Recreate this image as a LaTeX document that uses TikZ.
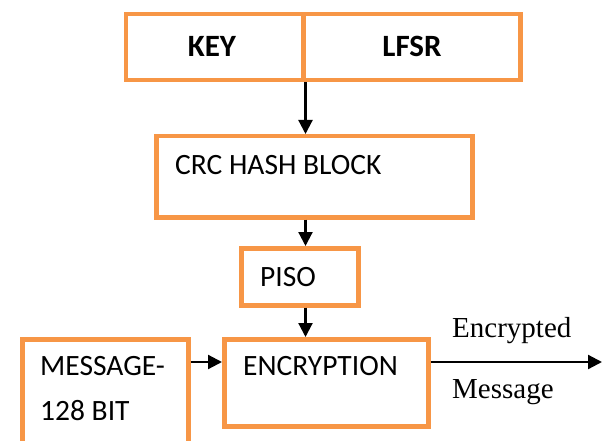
\documentclass[tikz,border=0pt]{standalone}
\usepackage{fontspec}
\setmainfont{Carlito}
\newfontfamily\timesfont{Liberation Serif}
\usetikzlibrary{arrows.meta}
\definecolor{boxorange}{HTML}{F79646}
\begin{document}
\begin{tikzpicture}[x=1pt,y=-1pt,
  blk/.style={draw=boxorange,line width=4.5pt,rectangle,inner sep=0pt,anchor=north west},
  lbl/.style={inner sep=0pt,font=\fontsize{29.5}{34}\selectfont},
  arr/.style={line width=2.2pt,-{Triangle[length=14pt,width=14pt]}}]
\clip (0,0) rectangle (602,441);
\fill[white] (0,0) rectangle (602,441);
% boxes
\node[blk,minimum width=177.5pt,minimum height=66pt] (key) at (123.5,12) {};
\node[blk,minimum width=217pt,minimum height=66pt] (lfsr) at (301,12) {};
\node[blk,minimum width=316pt,minimum height=81pt] (crc) at (154,134) {};
\node[blk,minimum width=117pt,minimum height=57pt] (piso) at (239,246) {};
\node[blk,minimum width=166pt,minimum height=130pt] (msg) at (20,337) {};
\node[blk,minimum width=204pt,minimum height=87pt] (enc) at (222,337) {};
% texts
\node[lbl,font=\fontsize{31}{34}\selectfont\bfseries] (keyt) at (212,46) {KEY};
\node[lbl,font=\fontsize{31}{34}\selectfont\bfseries] (lfsrt) at (412,46) {LFSR};
\node[lbl,anchor=west] (crct) at (175,165) {CRC HASH BLOCK};
\node[lbl] (pisot) at (288,277) {PISO};
\node[lbl,anchor=west] (msgt1) at (40,366) {MESSAGE-};
\node[lbl,anchor=west] (msgt2) at (40,411) {128 BIT};
\node[lbl,anchor=west] (enct) at (243,366) {ENCRYPTION};
\node[lbl,anchor=west,font=\fontsize{29}{34}\selectfont\timesfont] (outt1) at (452,331) {Encrypted};
\node[lbl,anchor=west,font=\fontsize{29}{34}\selectfont\timesfont] (outt2) at (452,392) {Message};
\coordinate (out) at (602,362);
% connectors
\draw[arr] (key.south east) -- (key.south east |- crc.north);
\draw[arr] (crc.south -| key.south east) -- (piso.north -| key.south east);
\draw[arr] (piso.south -| key.south east) -- (enc.north -| key.south east);
\draw[arr] (msg.east |- out) -- (enc.west |- out);
\draw[arr] (enc.east |- out) -- (out);
\end{tikzpicture}
\end{document}
